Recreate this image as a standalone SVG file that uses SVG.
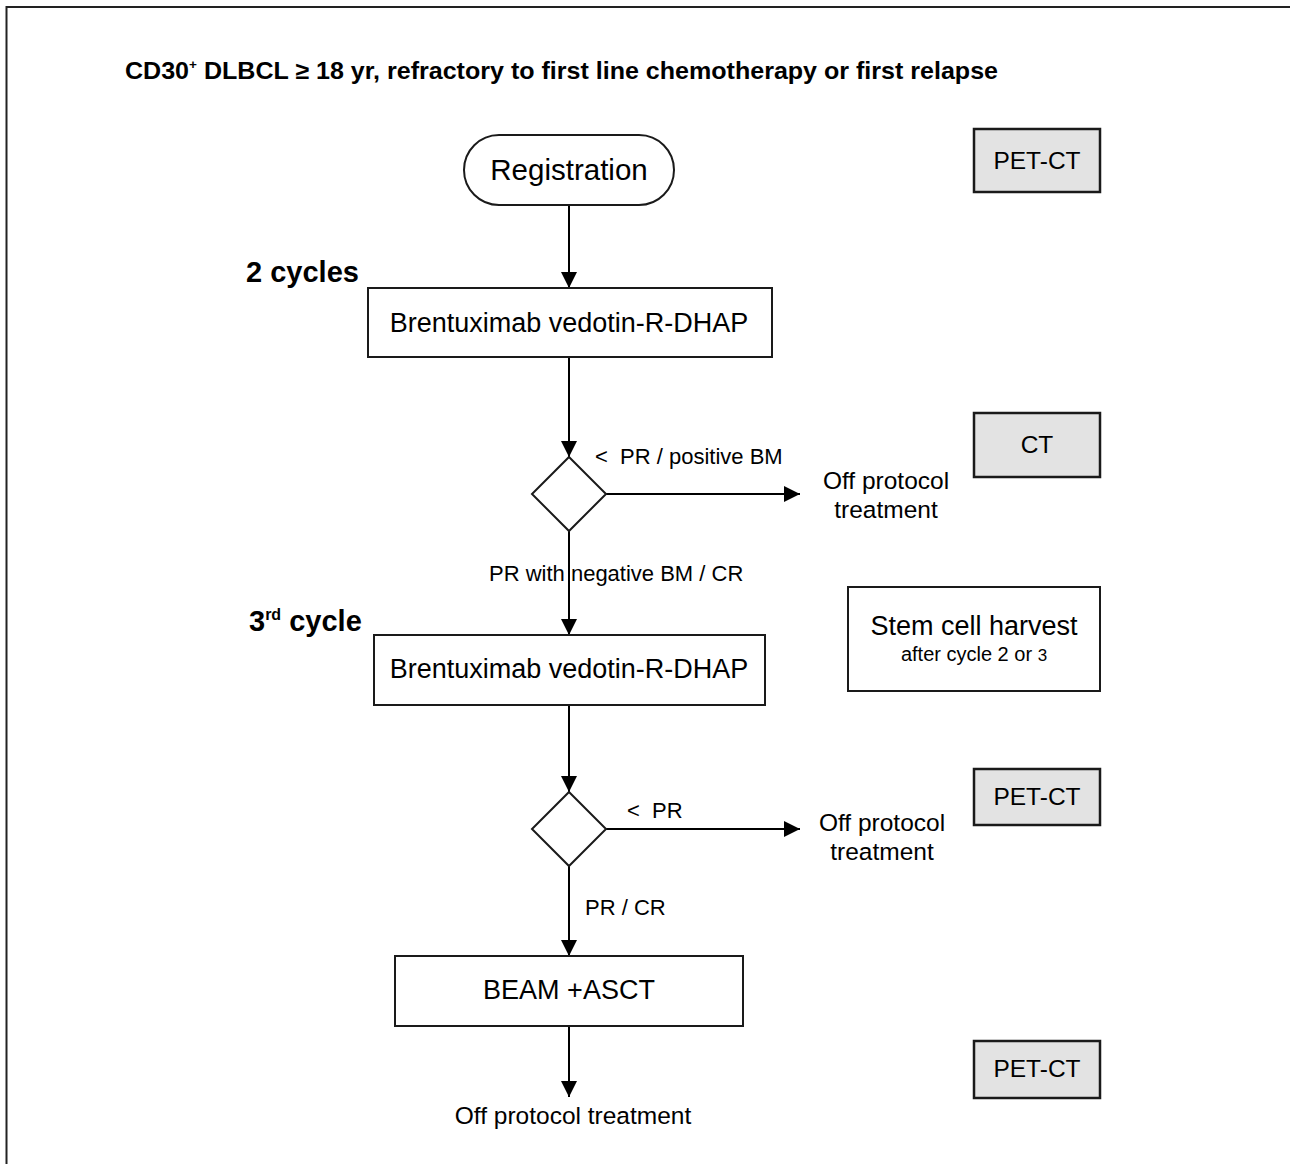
<svg xmlns="http://www.w3.org/2000/svg" width="1290" height="1164" viewBox="0 0 1290 1164">
<style>
  text { font-family: "Liberation Sans", Arial, sans-serif; fill: #000; white-space: pre; }
  .box { fill: #fff; stroke: #1a1a1a; stroke-width: 2; }
  .grey { fill: #e3e3e3; stroke: #1a1a1a; stroke-width: 2.5; }
  .line { stroke: #000; stroke-width: 2; fill: none; }
  .main { font-size: 27px; text-anchor: middle; }
  .lbl { font-size: 22px; }
  .side { font-size: 24.5px; text-anchor: middle; }
  .bold { font-weight: bold; font-size: 29px; }
</style>
<defs>
  <marker id="arr" markerWidth="16" markerHeight="16" refX="16" refY="8" orient="auto" markerUnits="userSpaceOnUse">
    <path d="M0,0 L16,8 L0,16 Z" fill="#000"/>
  </marker>
</defs>
<rect width="1290" height="1164" fill="#fff"/>
<path d="M6.5,1164 V7 H1290" fill="none" stroke="#222" stroke-width="2"/>

<text x="125" y="79" font-size="24" font-weight="bold" textLength="873" lengthAdjust="spacingAndGlyphs">CD30<tspan dy="-10" font-size="13">+</tspan><tspan dy="10"> DLBCL ≥ 18 yr, refractory to first line chemotherapy or first relapse</tspan></text>

<g id="connectors">
  <line class="line" x1="569" y1="205" x2="569" y2="288" marker-end="url(#arr)"/>
  <line class="line" x1="569" y1="357" x2="569" y2="457" marker-end="url(#arr)"/>
  <line class="line" x1="606" y1="494" x2="800" y2="494" marker-end="url(#arr)"/>
  <line class="line" x1="569" y1="531" x2="569" y2="635" marker-end="url(#arr)"/>
  <line class="line" x1="569" y1="705" x2="569" y2="792" marker-end="url(#arr)"/>
  <line class="line" x1="606" y1="829" x2="800" y2="829" marker-end="url(#arr)"/>
  <line class="line" x1="569" y1="866" x2="569" y2="956" marker-end="url(#arr)"/>
  <line class="line" x1="569" y1="1026" x2="569" y2="1097" marker-end="url(#arr)"/>
  <text class="lbl" x="595" y="464">&lt;  PR / positive BM</text>
  <text class="lbl" x="489" y="581">PR with negative BM / CR</text>
  <text class="lbl" x="627" y="818">&lt;  PR</text>
  <text class="lbl" x="585" y="915">PR / CR</text>
</g>

<g id="registration">
  <rect class="box" x="464" y="135" width="210" height="70" rx="35" ry="35"/>
  <text x="569" y="180" font-size="29.5" text-anchor="middle">Registration</text>
</g>

<g id="cycles-label"><text class="bold" x="246" y="282">2 cycles</text></g>

<g id="bv1">
  <rect class="box" x="368" y="288" width="404" height="69"/>
  <text class="main" x="569" y="332">Brentuximab vedotin-R-DHAP</text>
</g>

<g id="decision1">
  <polygon class="box" points="569,457 606,494 569,531 532,494"/>
</g>

<g id="off1">
  <text class="side" x="886" y="489">Off protocol</text>
  <text class="side" x="886" y="518">treatment</text>
</g>

<g id="cycle3-label"><text class="bold" x="249" y="631">3<tspan dy="-11" font-size="16">rd</tspan><tspan dy="11"> cycle</tspan></text></g>

<g id="bv2">
  <rect class="box" x="374" y="635" width="391" height="70"/>
  <text class="main" x="569" y="678">Brentuximab vedotin-R-DHAP</text>
</g>

<g id="decision2">
  <polygon class="box" points="569,792 606,829 569,866 532,829"/>
</g>

<g id="off2">
  <text class="side" x="882" y="831">Off protocol</text>
  <text class="side" x="882" y="860">treatment</text>
</g>

<g id="beam">
  <rect class="box" x="395" y="956" width="348" height="70"/>
  <text class="main" x="569" y="999">BEAM +ASCT</text>
</g>

<g id="off3">
  <text class="side" x="573" y="1124">Off protocol treatment</text>
</g>

<g id="petct1">
  <rect class="grey" x="974" y="129" width="126" height="63"/>
  <text class="side" x="1037" y="169">PET-CT</text>
</g>
<g id="ct">
  <rect class="grey" x="974" y="413" width="126" height="64"/>
  <text class="side" x="1037" y="453">CT</text>
</g>
<g id="stemcell">
  <rect class="box" x="848" y="587" width="252" height="104"/>
  <text x="974" y="635" font-size="27" text-anchor="middle">Stem cell harvest</text>
  <text x="974" y="661" font-size="20" text-anchor="middle">after cycle 2 or <tspan font-size="17">3</tspan></text>
</g>
<g id="petct2">
  <rect class="grey" x="974" y="769" width="126" height="56"/>
  <text class="side" x="1037" y="805">PET-CT</text>
</g>
<g id="petct3">
  <rect class="grey" x="974" y="1041" width="126" height="57"/>
  <text class="side" x="1037" y="1077">PET-CT</text>
</g>
</svg>
